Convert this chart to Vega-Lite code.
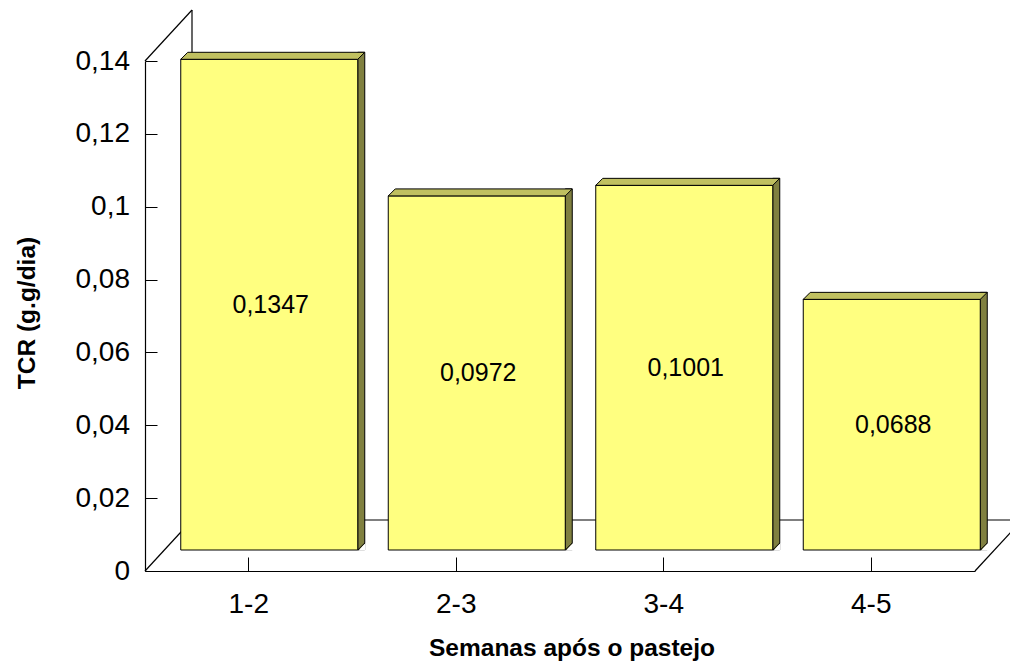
{
  "$schema": "https://vega.github.io/schema/vega-lite/v6.json",
  "width": 830,
  "height": 510,
  "autosize": {"type": "none"},
  "padding": {"left": 145, "top": 61, "right": 35, "bottom": 95},
  "background": "white",
  "config": {
    "view": {"stroke": null},
    "font": "Liberation Sans",
    "locale": {"number": {"decimal": ",", "thousands": ".", "grouping": [3], "currency": ["", ""]}}
  },
  "data": {"values": [
    {"semana": "1-2", "tcr": 0.1347},
    {"semana": "2-3", "tcr": 0.0972},
    {"semana": "3-4", "tcr": 0.1001},
    {"semana": "4-5", "tcr": 0.0688}
  ]},
  "layer": [
    {
      "data": {"values": [{}]},
      "mark": {"type": "rule", "color": "black", "strokeWidth": 1.2, "xOffset": 47, "yOffset": -51, "y2Offset": -51},
      "encoding": {
        "x": {"datum": "1-2", "type": "nominal", "bandPosition": 0},
        "y": {"datum": 0, "type": "quantitative"},
        "y2": {"datum": 0.14}
      }
    },
    {
      "data": {"values": [{}]},
      "mark": {"type": "rule", "color": "black", "strokeWidth": 1.2, "x2Offset": 47, "y2Offset": -51},
      "encoding": {
        "x": {"datum": "1-2", "type": "nominal", "bandPosition": 0},
        "x2": {"datum": "1-2", "bandPosition": 0},
        "y": {"datum": 0.14, "type": "quantitative"},
        "y2": {"datum": 0.14}
      }
    },
    {
      "data": {"values": [{}]},
      "mark": {"type": "rule", "color": "black", "strokeWidth": 1.2, "x2Offset": 47, "y2Offset": -51},
      "encoding": {
        "x": {"datum": "1-2", "type": "nominal", "bandPosition": 0},
        "x2": {"datum": "1-2", "bandPosition": 0},
        "y": {"datum": 0, "type": "quantitative"},
        "y2": {"datum": 0}
      }
    },
    {
      "data": {"values": [{}]},
      "mark": {"type": "rule", "color": "black", "strokeWidth": 1.2, "xOffset": 47, "x2Offset": 47, "yOffset": -51},
      "encoding": {
        "x": {"datum": "1-2", "type": "nominal", "bandPosition": 0},
        "x2": {"datum": "4-5", "bandPosition": 1},
        "y": {"datum": 0, "type": "quantitative"}
      }
    },
    {
      "data": {"values": [{}]},
      "mark": {"type": "rule", "color": "black", "strokeWidth": 1.2, "x2Offset": 47, "y2Offset": -51},
      "encoding": {
        "x": {"datum": "4-5", "type": "nominal", "bandPosition": 1},
        "x2": {"datum": "4-5", "bandPosition": 1},
        "y": {"datum": 0, "type": "quantitative"},
        "y2": {"datum": 0}
      }
    },
    {
      "mark": {"type": "bar", "width": 7, "xOffset": 112.5, "yOffset": -28, "y2Offset": -21, "fill": "#808040", "stroke": "black", "strokeWidth": 1},
      "encoding": {
        "x": {"field": "semana", "type": "nominal"},
        "y": {"field": "tcr", "type": "quantitative"},
        "y2": {"datum": 0}
      }
    },
    {
      "mark": {"type": "point", "shape": "M89,0.7 L96.3,-7.2 L96.3,0.7 Z", "size": 4, "filled": true, "fill": "white", "strokeWidth": 0, "opacity": 1, "xOffset": 20.5, "yOffset": -21},
      "encoding": {
        "x": {"field": "semana", "type": "nominal"},
        "y": {"datum": 0, "type": "quantitative"}
      }
    },
    {
      "mark": {"type": "point", "shape": "M88.5,0 L95.5,-7", "size": 4, "filled": false, "stroke": "black", "strokeWidth": 1, "opacity": 1, "xOffset": 20.5, "yOffset": -21},
      "encoding": {
        "x": {"field": "semana", "type": "nominal"},
        "y": {"datum": 0, "type": "quantitative"}
      }
    },
    {
      "mark": {"type": "bar", "width": 177, "xOffset": 20.5, "yOffset": -21, "y2Offset": -21, "fill": "#FFFF80", "stroke": "black", "strokeWidth": 1},
      "encoding": {
        "x": {
          "field": "semana", "type": "nominal",
          "scale": {"domain": ["1-2", "2-3", "3-4", "4-5"], "paddingInner": 0, "paddingOuter": 0},
          "axis": {
            "title": "Semanas após o pastejo",
            "labelAngle": 0, "labelAlign": "center", "labelBaseline": "top",
            "labelFont": "Liberation Sans", "labelFontSize": 28, "labelColor": "black", "labelPadding": 33,
            "tickBand": "center", "tickSize": -14, "tickColor": "black", "tickWidth": 1,
            "domainColor": "black", "domainWidth": 1.2,
            "titleFont": "Liberation Sans", "titleFontSize": 24.5, "titleFontWeight": "bold", "titleColor": "black",
            "titleX": 426.5, "titleY": 65, "titleBaseline": "top", "titleAlign": "center"
          }
        },
        "y": {
          "field": "tcr", "type": "quantitative",
          "scale": {"domain": [0, 0.14], "nice": false, "zero": true},
          "axis": {
            "title": "TCR (g.g/dia)",
            "values": [0, 0.02, 0.04, 0.06, 0.08, 0.1, 0.12, 0.14],
            "format": "~g",
            "grid": false,
            "labelAlign": "right", "labelBaseline": "middle",
            "labelFont": "Liberation Sans", "labelFontSize": 28, "labelColor": "black", "labelPadding": 27.5,
            "tickSize": -12, "tickColor": "black", "tickWidth": 1,
            "domainColor": "black", "domainWidth": 1.2,
            "titleFont": "Liberation Sans", "titleFontSize": 24.5, "titleFontWeight": "bold", "titleColor": "black",
            "titleAngle": -90, "titleX": -111, "titleY": 251.5, "titleBaseline": "alphabetic", "titleAlign": "center"
          }
        },
        "y2": {"datum": 0}
      }
    },
    {
      "mark": {"type": "point", "shape": "M-88.5,0 L-81.5,-7 L95.5,-7 L88.5,0 Z", "size": 4, "filled": true, "fill": "#C0C060", "stroke": "black", "strokeWidth": 1, "opacity": 1, "xOffset": 20.5, "yOffset": -21},
      "encoding": {
        "x": {"field": "semana", "type": "nominal"},
        "y": {"field": "tcr", "type": "quantitative"}
      }
    },
    {
      "transform": [{"calculate": "datum.tcr / 2", "as": "meio"}],
      "mark": {"type": "text", "font": "Liberation Sans", "fontSize": 25, "color": "black", "baseline": "middle", "align": "center", "xOffset": 22, "yOffset": -21},
      "encoding": {
        "x": {"field": "semana", "type": "nominal"},
        "y": {"field": "meio", "type": "quantitative"},
        "text": {"field": "tcr", "type": "quantitative", "format": ".4f"}
      }
    }
  ]
}
